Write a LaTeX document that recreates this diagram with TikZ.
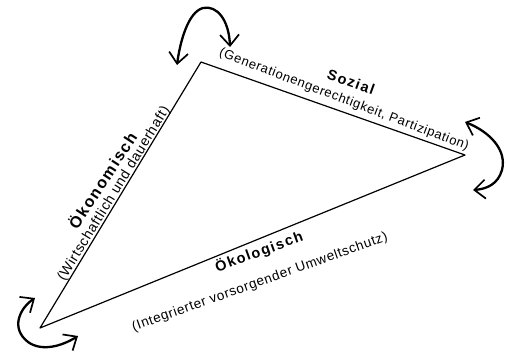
\documentclass[tikz,border=0pt]{standalone}
\usepackage{fontspec}
\setmainfont{Liberation Sans}
\newfontfamily\weitfett[LetterSpace=10]{Liberation Sans}
\newfontfamily\weit[LetterSpace=5]{Liberation Sans}
\usepackage{tikz}
\usetikzlibrary{calc, arrows.meta}
\usepackage{tkz-euclide}

\tikzset{
  seite/.style={black, line width=1.2pt},
  spitze/.tip={Straight Barb[length=11pt,width=19pt,line width=1.7pt]},
  pfeil/.style={black, line width=2.3pt, spitze-spitze},
  titel/.style={inner sep=0pt, font=\weitfett\fontsize{#1}{#1}\selectfont\bfseries},
  titel/.default=14.5,
  zusatz/.style={inner sep=0pt, font=\weit\fontsize{#1}{#1}\selectfont},
  zusatz/.default=13.5
}

\begin{document}
\begin{tikzpicture}[x=1pt, y=1pt]
                        \useasboundingbox (0,0) rectangle (507,360);
                        \tkzDefPoints{201/298/S, 465/205/U, 40/32/W}
                        \tkzDrawPolygon[seite](S,U,W)
                        \node[titel, rotate=-20] (sozial) at (351,278) {Sozial};
                        \node[zusatz=13, rotate=-20.8] (sozialtext) at (344,260) {(Generationengerechtigkeit, Partizipation)};
                        \node[titel=16, rotate=57] (oekonom) at (102,180) {Ökonomisch};
                        \node[zusatz=14, rotate=58.5] (oekonomtext) at (114,166) {(Wirtschaftlich und dauerhaft)};
                        \node[titel, rotate=20] (oekolog) at (259,108) {Ökologisch};
                        \node[zusatz, rotate=19.6] (oekologtext) at (260,77.5) {(Integrierter vorsorgender Umweltschutz)};
                        \coordinate (s1) at (230,313);
                        \coordinate (s2) at (177,295);
                        \coordinate (u1) at (465,238);
                        \coordinate (u2) at (473,170);
                        \coordinate (w1) at (35,62);
                        \coordinate (w2) at (78,24);
                        \draw[pfeil] (s1) .. controls (229,340) and (217,355) .. (203,352) .. controls (188,348) and (180,318) .. (s2);
                        \draw[pfeil] (u1) .. controls (490,228) and (507,210) .. (502,190) .. controls (498,176) and (487,171) .. (u2);
                        \draw[pfeil] (w1) .. controls (20,52) and (10,32) .. (28,18) .. controls (42,8) and (62,14) .. (w2);
                    \end{tikzpicture}
\end{document}
